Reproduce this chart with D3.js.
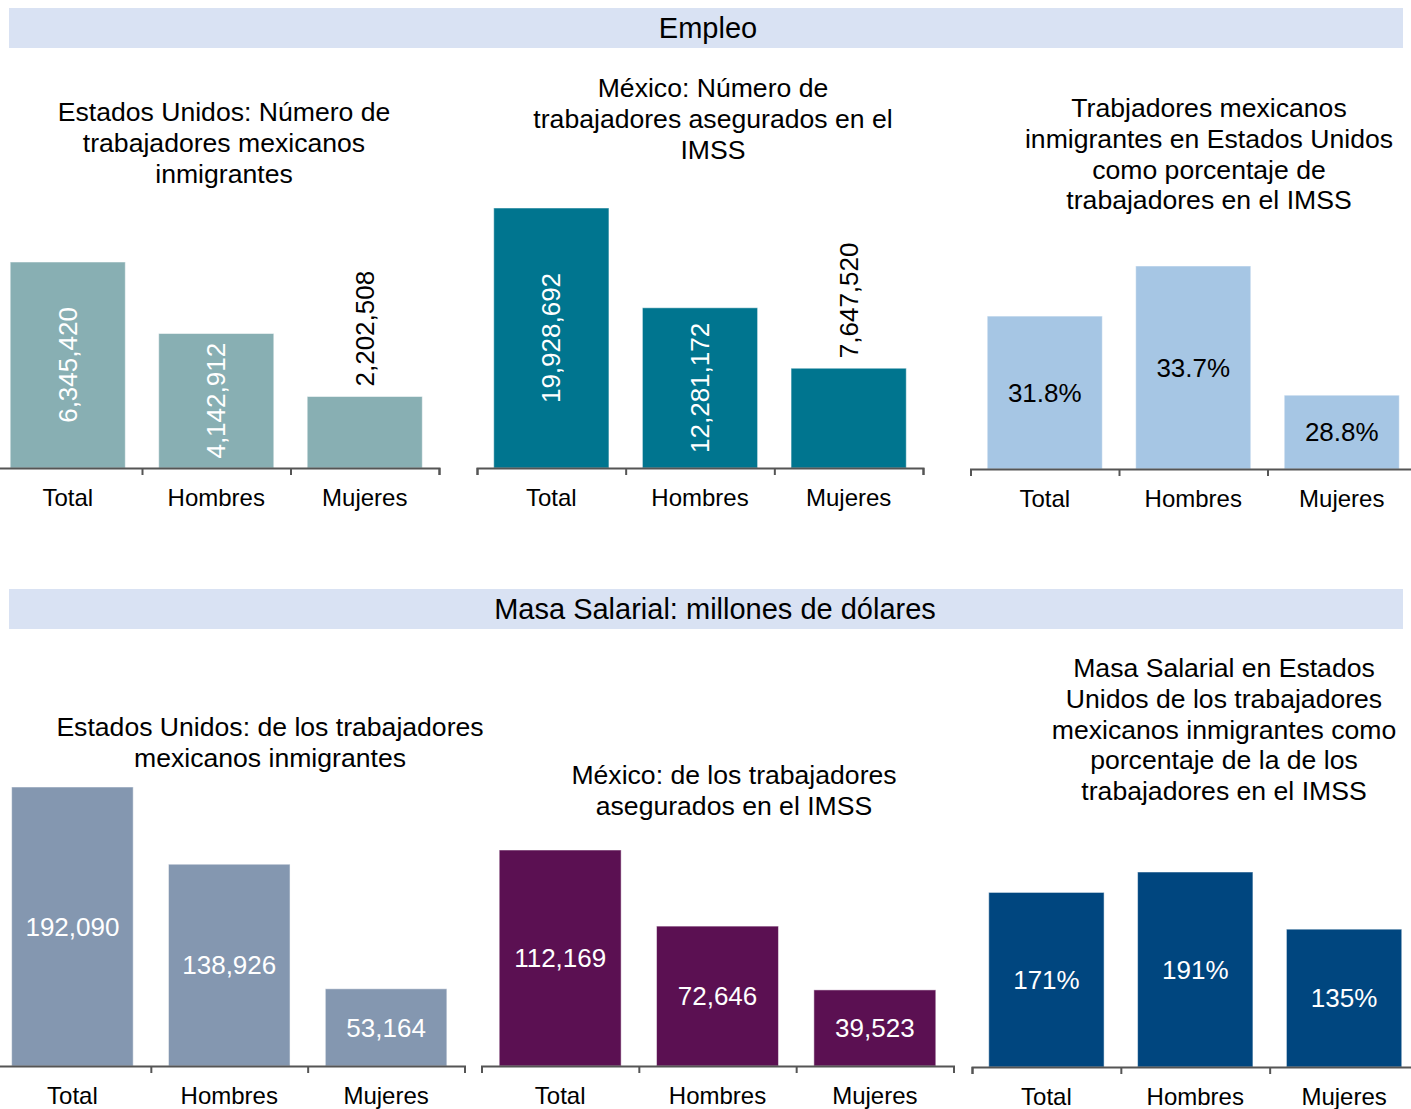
<!DOCTYPE html>
<html>
<head>
<meta charset="utf-8">
<script src="https://cdn.jsdelivr.net/npm/d3@7"></script>
<style>
  body { margin: 0; background: #fff; }
  svg text { font-family: "Liberation Sans", Arial, sans-serif; fill: #000; }
  .axis path, .axis line { stroke: #555; stroke-width: 2; }
</style>
</head>
<body>
<div id="chart"></div>
<script>
// categories shared by all six panels
var categories = ["Total", "Hombres", "Mujeres"];

// Empleo
var usWorkers = [6345420, 4142912, 2202508];
var mxInsured = [19928692, 12281172, 7647520];
var workersPct = [31.8, 33.7, 28.8];

// Masa salarial (millones de dólares)
var usWages = [192090, 138926, 53164];
var mxWages = [112169, 72646, 39523];
var wagesPct = [171, 191, 135];

var sections = ["Empleo", "Masa Salarial: millones de dólares"];

var titles = [
    ["Estados Unidos: Número de", "trabajadores mexicanos", "inmigrantes"],
    ["México: Número de", "trabajadores asegurados en el", "IMSS"],
    ["Trabjadores mexicanos", "inmigrantes en Estados Unidos", "como porcentaje de", "trabajadores en el IMSS"],
    ["Estados Unidos: de los trabajadores", "mexicanos inmigrantes"],
    ["México: de los trabajadores", "asegurados en el IMSS"],
    ["Masa Salarial en Estados", "Unidos de los trabajadores", "mexicanos inmigrantes como", "porcentaje de la de los", "trabajadores en el IMSS"]
];

var W = 1411, H = 1109;

var svg = d3.select("#chart").append("svg")
    .attr("width", W)
    .attr("height", H);

// section header bands
var bandY = [8, 589], bandTx = [708, 715];
sections.forEach(function(s, i) {
    svg.append("rect")
        .attr("x", 9).attr("y", bandY[i])
        .attr("width", 1394).attr("height", 40)
        .attr("fill", "#D9E2F3");
    svg.append("text")
        .attr("x", bandTx[i]).attr("y", bandY[i] + 20)
        .attr("dy", "0.35em")
        .attr("text-anchor", "middle")
        .style("font-size", "29px")
        .text(s);
});

// panel layout: x extent of axis, baseline, top of tallest bar, y floor
var panels = [
    { data: usWorkers, title: titles[0], color: "#88AFB3", x0: -6.5, x1: 439, base: 468, top: 262, tx: 224, ty: 112,
      fmt: d3.format(","), rotate: true, inside: [true, true, false], labelColor: "#fff" },
    { data: mxInsured, title: titles[1], color: "#00758F", x0: 477, x1: 923, base: 468, top: 208, tx: 713, ty: 88,
      fmt: d3.format(","), rotate: true, inside: [true, true, false], labelColor: "#fff" },
    { data: workersPct, title: titles[2], color: "#A6C6E4", x0: 970.5, x1: 1416, base: 469, top: 266, tx: 1209, ty: 108,
      fmt: function(d) { return d.toFixed(1) + "%"; }, floor: 26, inside: [true, true, true], labelColor: "#000" },
    { data: usWages, title: titles[3], color: "#8497B0", x0: -6, x1: 464.5, base: 1066, top: 787, tx: 270, ty: 727,
      fmt: d3.format(","), inside: [true, true, true], labelColor: "#fff" },
    { data: mxWages, title: titles[4], color: "#5B1052", x0: 481.5, x1: 953.5, base: 1066, top: 850, tx: 734, ty: 775,
      fmt: d3.format(","), inside: [true, true, true], labelColor: "#fff" },
    { data: wagesPct, title: titles[5], color: "#00467F", x0: 972, x1: 1418.5, base: 1067, top: 872, tx: 1224, ty: 668,
      fmt: function(d) { return d + "%"; }, inside: [true, true, true], labelColor: "#fff" }
];

panels.forEach(function(p) {
    var g = svg.append("g");

    var x = d3.scaleBand()
        .domain(categories)
        .range([p.x0, p.x1])
        .paddingInner(0.225)
        .paddingOuter(0.1125);

    var y = d3.scaleLinear()
        .domain([p.floor || 0, d3.max(p.data)])
        .range([p.base, p.top]);

    // title
    g.append("text")
        .attr("text-anchor", "middle")
        .style("font-size", "26.6px")
        .selectAll("tspan")
        .data(p.title)
        .enter()
        .append("tspan")
        .attr("x", p.tx)
        .attr("y", function(d, i) { return p.ty + i * 30.6; })
        .attr("dy", "0.35em")
        .text(function(d) { return d; });

    // bars
    g.selectAll("rect.bar")
        .data(p.data)
        .enter()
        .append("rect")
        .attr("class", "bar")
        .attr("x", function(d, i) { return x(categories[i]); })
        .attr("y", function(d) { return y(d); })
        .attr("width", x.bandwidth())
        .attr("height", function(d) { return p.base - y(d); })
        .attr("fill", p.color)
        .attr("stroke", "#fff")
        .attr("stroke-opacity", 0.5)
        .attr("stroke-width", 1);

    // axis: boundary ticks between categories
    var bx = d3.scaleLinear().domain([0, categories.length]).range([p.x0, p.x1]);
    g.append("g")
        .attr("class", "axis")
        .attr("transform", "translate(0," + p.base + ")")
        .call(d3.axisBottom(bx).tickValues(d3.range(categories.length + 1))
            .tickFormat("").tickSizeInner(7).tickSizeOuter(7));

    // category labels
    g.selectAll("text.cat")
        .data(categories)
        .enter()
        .append("text")
        .attr("class", "cat")
        .attr("x", function(d) { return x(d) + x.bandwidth() / 2; })
        .attr("y", p.base + 30)
        .attr("dy", "0.35em")
        .attr("text-anchor", "middle")
        .style("font-size", "24px")
        .text(function(d) { return d; });

    // value labels
    g.selectAll("text.val")
        .data(p.data)
        .enter()
        .append("text")
        .attr("class", "val")
        .style("font-size", "26px")
        .style("fill", function(d, i) { return p.inside[i] ? p.labelColor : "#000"; })
        .attr("dy", "0.35em")
        .attr("text-anchor", function(d, i) { return p.inside[i] ? "middle" : "start"; })
        .attr("transform", function(d, i) {
            var cx = x(categories[i]) + x.bandwidth() / 2;
            var cy = p.inside[i] ? (y(d) + p.base) / 2 : y(d) - 10;
            return "translate(" + cx + "," + cy + ")" + (p.rotate ? " rotate(-90)" : "");
        })
        .text(function(d) { return p.fmt(d); });
});
</script>
</body>
</html>
